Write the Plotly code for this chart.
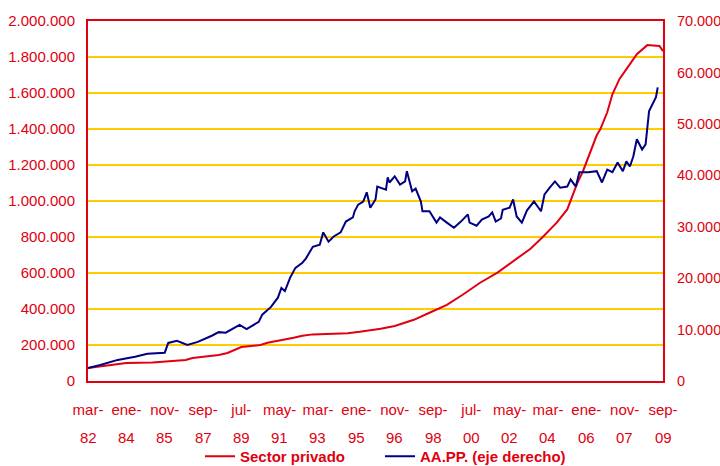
import plotly.graph_objects as go

# Crédito al sector privado (millones de euros, eje izquierdo)
privado_fechas = [
    "1982-03", "1983-08", "1984-01", "1985-04", "1985-08", "1986-11", "1987-03",
    "1988-06", "1988-11", "1989-07", "1990-06", "1990-10", "1992-01", "1992-06",
    "1992-12", "1993-10", "1994-08", "1995-03", "1996-03", "1996-11", "1997-10",
    "1998-07", "1999-05", "2000-02", "2000-12", "2001-10", "2002-07", "2003-05",
    "2003-12", "2004-04", "2004-08", "2005-02", "2005-05", "2005-08", "2005-11",
    "2006-01", "2006-04", "2006-07", "2006-09", "2007-01", "2007-04", "2007-08",
    "2008-02", "2008-06", "2008-12", "2009-04", "2009-07", "2009-09",
]
privado_valores = [
    72000, 95000, 100000, 103000, 106000, 117000, 128000,
    145000, 156000, 189000, 200000, 212000, 240000, 251000,
    259000, 262000, 265000, 273000, 290000, 306000, 340000,
    379000, 423000, 479000, 546000, 602000, 663000, 735000,
    800000, 841000, 880000, 953000, 1025000, 1103000, 1164000,
    1214000, 1281000, 1365000, 1398000, 1493000, 1593000, 1677000,
    1760000, 1816000, 1866000, 1861000, 1861000, 1833000,
]

# Crédito a las AA.PP. (millones de euros, eje derecho)
aapp_fechas = [
    "1982-03", "1982-10", "1983-08", "1984-06", "1985-01", "1985-11", "1986-01",
    "1986-06", "1986-12", "1987-06", "1988-02", "1988-06", "1988-10", "1989-06",
    "1989-10", "1990-05", "1990-07", "1990-12", "1991-04", "1991-06", "1991-08",
    "1991-11", "1992-02", "1992-06", "1992-08", "1992-12", "1993-04", "1993-06",
    "1993-09", "1993-12", "1994-04", "1994-07", "1994-11", "1994-12", "1995-02",
    "1995-05", "1995-07", "1995-09", "1995-12", "1996-01", "1996-06", "1996-07",
    "1996-08", "1996-11", "1997-02", "1997-05", "1997-06", "1997-09", "1997-11",
    "1998-02", "1998-03", "1998-07", "1998-11", "1999-01", "1999-05", "1999-09",
    "2000-01", "2000-05", "2000-06", "2000-10", "2001-01", "2001-05", "2001-07",
    "2001-09", "2001-12", "2002-01", "2002-05", "2002-07", "2002-09", "2002-12",
    "2003-03", "2003-07", "2003-11", "2004-01", "2004-04", "2004-07", "2004-10",
    "2005-02", "2005-04", "2005-07", "2005-09", "2006-02", "2006-07", "2006-10",
    "2007-01", "2007-04", "2007-07", "2007-10", "2007-12", "2008-02", "2008-04",
    "2008-06", "2008-09", "2008-11", "2009-01", "2009-03", "2009-05", "2009-06",
]
aapp_valores = [
    2500, 3100, 4100, 4700, 5300, 5500, 7400,
    7800, 7000, 7600, 8800, 9500, 9400, 10900,
    10100, 11500, 12900, 14400, 16200, 18100, 17500,
    20100, 22000, 23000, 23800, 26100, 26500, 28900,
    27100, 28100, 28900, 31000, 31800, 33000, 34300,
    34900, 36700, 33700, 35300, 37800, 37200, 39600,
    38600, 39800, 38200, 38800, 40800, 36900, 37400,
    34900, 33000, 33000, 30800, 31800, 30800, 29800,
    31000, 32400, 30800, 30200, 31400, 32000, 32800,
    31000, 31600, 33300, 33700, 35300, 32000, 30800,
    33200, 34900, 33000, 36300, 37600, 38800, 37600,
    37800, 39200, 37800, 40600, 40600, 40800, 38600,
    41100, 40600, 42500, 40800, 42700, 41700, 43700,
    47000, 45000, 46000, 52500, 53800, 55200, 57100,
]

# Etiquetas del eje X: una cada 22 meses
tick_fechas = [
    "1982-03", "1984-01", "1985-11", "1987-09", "1989-07", "1991-05", "1993-03",
    "1995-01", "1996-11", "1998-09", "2000-07", "2002-05", "2004-03", "2006-01",
    "2007-11", "2009-09",
]
tick_meses = ["mar-", "ene-", "nov-", "sep-", "jul-", "may-", "mar-", "ene-",
              "nov-", "sep-", "jul-", "may-", "mar-", "ene-", "nov-", "sep-"]
tick_anios = ["82", "84", "85", "87", "89", "91", "93", "95",
              "96", "98", "00", "02", "04", "06", "07", "09"]

ROJO = "#E00010"
AZUL = "#000080"
AMARILLO = "#FFCC00"
FUENTE = "Liberation Sans"

fig = go.Figure()
fig.add_trace(go.Scatter(
    x=privado_fechas, y=privado_valores, mode="lines", name="<b>Sector privado</b>",
    line=dict(color=ROJO, width=2), yaxis="y", legend="legend",
))
fig.add_trace(go.Scatter(
    x=aapp_fechas, y=aapp_valores, mode="lines", name="<b>AA.PP. (eje derecho)</b>",
    line=dict(color=AZUL, width=2), yaxis="y2", legend="legend2",
))

# Segunda línea de las etiquetas del eje X (año)
for f, a in zip(tick_fechas, tick_anios):
    fig.add_annotation(
        x=f, xref="x", y=0, yref="paper", yshift=-56, text=a, showarrow=False,
        font=dict(family=FUENTE, size=15, color=ROJO), yanchor="middle",
    )

PLOT_L, PLOT_W, PLOT_B, PLOT_H = 88, 575, 381, 360
leyenda_comun = dict(
    orientation="h", xanchor="left", yanchor="top",
    y=(PLOT_B - 440) / PLOT_H,
    font=dict(family=FUENTE, size=15, color=ROJO),
    bgcolor="rgba(0,0,0,0)", itemwidth=30,
)

fig.update_layout(
    width=720, height=466,
    margin=dict(l=88, r=57, t=21, b=85, autoexpand=False),
    paper_bgcolor="white", plot_bgcolor="white",
    separators=",.",
    font=dict(family=FUENTE, size=15, color=ROJO),
    showlegend=True,
    legend=dict(x=(200 - PLOT_L) / PLOT_W, **leyenda_comun),
    legend2=dict(x=(380 - PLOT_L) / PLOT_W, **leyenda_comun),
    xaxis=dict(
        type="date", range=["1982-03-01", "2009-09-01"],
        tickmode="array", tickvals=tick_fechas, ticktext=tick_meses,
        showgrid=False, ticks="", ticklabelstandoff=14,
        showline=True, linecolor=ROJO, linewidth=2, mirror=True,
        tickfont=dict(family=FUENTE, size=15, color=ROJO),
    ),
    yaxis=dict(
        range=[0, 2000000], dtick=200000, tickformat=",d",
        showgrid=True, gridcolor=AMARILLO, gridwidth=1.5, zeroline=False,
        showline=True, linecolor=ROJO, linewidth=2, mirror=True,
        ticks="", ticklabelstandoff=8,
        tickfont=dict(family=FUENTE, size=15, color=ROJO),
    ),
    yaxis2=dict(
        range=[0, 70000], dtick=10000, tickformat=",d",
        overlaying="y", side="right", showgrid=False, zeroline=False,
        showline=True, linecolor=ROJO, linewidth=2,
        ticks="", ticklabelstandoff=9,
        tickfont=dict(family=FUENTE, size=14.5, color=ROJO),
    ),
)

fig.write_html("out.html")
